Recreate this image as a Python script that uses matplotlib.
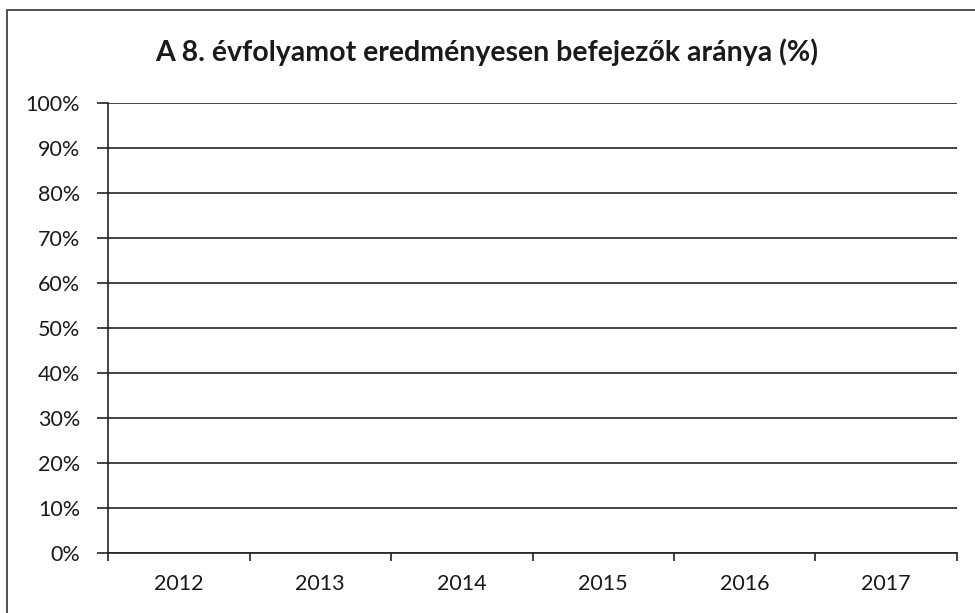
import matplotlib
matplotlib.use("Agg")
import matplotlib.pyplot as plt
import numpy as np
from matplotlib.patches import Rectangle

plt.rcParams['font.family'] = ['Lato', 'DejaVu Sans']

title = "A 8. évfolyamot eredményesen befejezők aránya (%)"
categories = ["2012", "2013", "2014", "2015", "2016", "2017"]
values = [np.nan, np.nan, np.nan, np.nan, np.nan, np.nan]  # empty chart
yticks = [0, 10, 20, 30, 40, 50, 60, 70, 80, 90, 100]
ytick_labels = [f"{v}%" for v in yticks]

fig = plt.figure(figsize=(9.75, 6.13), dpi=100)
fig.patch.set_facecolor("white")
# outer chart border
fig.add_artist(Rectangle((7/975, -0.05), 1.0, 1 - 10/613 + 0.05, transform=fig.transFigure,
                         fill=False, edgecolor="#333333", linewidth=1.2))

ax = fig.add_axes([108/975, 1 - 553/613, (957 - 108)/975, (553 - 103)/613])
x = np.arange(len(categories))
ax.bar(x, values, color="#4472c4")

ax.set_xlim(-0.5, len(categories) - 0.5)
ax.set_ylim(0, 100)
ax.set_yticks(yticks)
ax.set_yticklabels(ytick_labels, fontsize=15.5, color="#1a1a1a")
ax.tick_params(axis="y", length=8, width=1.2, color="#222222", pad=12)

ax.set_xticks(np.arange(-0.5, len(categories), 1.0))
ax.set_xticklabels([])
ax.tick_params(axis="x", which="major", length=6, width=1.2, color="#222222", direction="out")
ax.set_xticks(x, minor=True)
ax.set_xticklabels(categories, minor=True, fontsize=15.5, color="#1a1a1a")
ax.tick_params(axis="x", which="minor", length=0, pad=15)

for spine in ["top", "right"]:
    ax.spines[spine].set_visible(False)
ax.spines["left"].set_color("#222222")
ax.spines["left"].set_linewidth(1.2)
ax.spines["bottom"].set_color("#222222")
ax.spines["bottom"].set_linewidth(1.2)

ax.yaxis.grid(True, color="#222222", linewidth=1.2)
ax.set_axisbelow(True)

fig.text(487/975, 1 - 52/613, title, ha="center", va="center",
         fontsize=20.5, fontweight="bold", color="#1a1a1a")

fig.savefig("out.png", dpi=100, facecolor="white")
